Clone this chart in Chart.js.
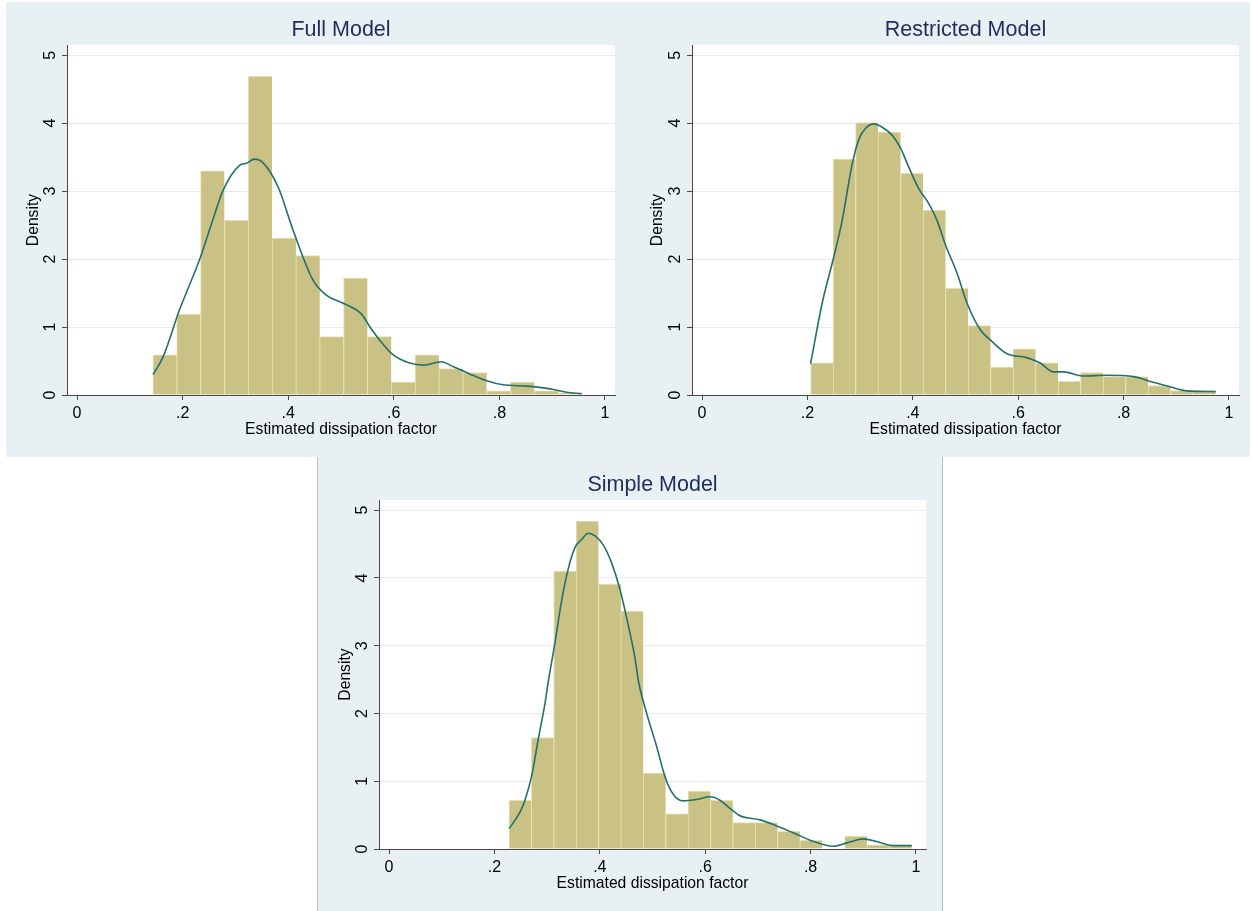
<!DOCTYPE html>
<html>
<head>
<meta charset="utf-8">
<script src="https://cdn.jsdelivr.net/npm/chart.js@4"></script>
<style>
  html, body { margin: 0; padding: 0; background: #ffffff; }
  body { width: 1252px; height: 911px; position: relative; overflow: hidden; font-family: 'Liberation Sans', Arial, sans-serif; }
  .bg { position: absolute; background: #e9f0f3; box-sizing: border-box; }
  canvas { position: absolute; }
</style>
</head>
<body>
<div class="bg" style="left:6px;top:2px;width:1244px;height:455px;"></div>
<div class="bg" style="left:317px;top:457px;width:626px;height:454px;border-left:1px solid #b7bfc3;border-right:1px solid #b7bfc3;"></div>
<canvas id="c1" width="614" height="455" style="left:6px;top:2px;width:614px;height:455px;"></canvas>
<canvas id="c2" width="620" height="455" style="left:630px;top:2px;width:620px;height:455px;"></canvas>
<canvas id="c3" width="624" height="454" style="left:318px;top:457px;width:624px;height:454px;"></canvas>
<script>
// ---------------- DATA ----------------
const xTickValues = [0, 0.2, 0.4, 0.6, 0.8, 1];
const yTickValues = [0, 1, 2, 3, 4, 5];
const xAxisTitle = 'Estimated dissipation factor';
const yAxisTitle = 'Density';

// Full Model
const fullTitle = 'Full Model';
const fullBinStart = 0.1437;
const fullBinWidth = 0.04515;
const fullHeights = [0.59, 1.19, 3.30, 2.57, 4.69, 2.31, 2.05, 0.86, 1.72, 0.86, 0.19, 0.59, 0.39, 0.33, 0.06, 0.19, 0.06, 0.03];
const fullKdeX = [0.144, 0.163, 0.194, 0.232, 0.257, 0.276, 0.308, 0.321, 0.336, 0.352, 0.381, 0.409, 0.447, 0.472, 0.504, 0.539, 0.555, 0.573, 0.596, 0.630, 0.656, 0.690, 0.712, 0.744, 0.776, 0.807, 0.852, 0.896, 0.927, 0.956];
const fullKdeY = [0.30, 0.56, 1.25, 1.99, 2.57, 3.00, 3.38, 3.41, 3.47, 3.42, 3.06, 2.43, 1.69, 1.47, 1.35, 1.19, 1.00, 0.81, 0.61, 0.47, 0.44, 0.49, 0.42, 0.31, 0.21, 0.15, 0.13, 0.09, 0.04, 0.02];

// Restricted Model
const restrictedTitle = 'Restricted Model';
const restrictedBinStart = 0.206;
const restrictedBinWidth = 0.0427;
const restrictedHeights = [0.475, 3.47, 4.01, 3.87, 3.26, 2.72, 1.57, 1.02, 0.41, 0.68, 0.475, 0.20, 0.33, 0.27, 0.27, 0.14, 0.065, 0.065];
const restrictedKdeX = [0.206, 0.228, 0.250, 0.266, 0.284, 0.297, 0.310, 0.326, 0.342, 0.361, 0.377, 0.392, 0.411, 0.430, 0.446, 0.461, 0.484, 0.503, 0.528, 0.547, 0.578, 0.616, 0.642, 0.667, 0.686, 0.724, 0.768, 0.819, 0.851, 0.888, 0.920, 0.975];
const restrictedKdeY = [0.46, 1.35, 2.03, 2.57, 3.36, 3.75, 3.92, 3.99, 3.94, 3.82, 3.63, 3.36, 3.04, 2.82, 2.57, 2.23, 1.79, 1.35, 0.96, 0.81, 0.61, 0.55, 0.47, 0.34, 0.34, 0.28, 0.29, 0.27, 0.20, 0.12, 0.06, 0.05];

// Simple Model
const simpleTitle = 'Simple Model';
const simpleBinStart = 0.2277;
const simpleBinWidth = 0.04246;
const simpleHeights = [0.72, 1.645, 4.10, 4.84, 3.91, 3.51, 1.12, 0.52, 0.854, 0.72, 0.39, 0.39, 0.26, 0.128, 0, 0.19, 0.06, 0.06];
const simpleKdeX = [0.228, 0.249, 0.258, 0.271, 0.283, 0.296, 0.302, 0.315, 0.327, 0.340, 0.353, 0.366, 0.378, 0.391, 0.407, 0.422, 0.438, 0.454, 0.467, 0.473, 0.489, 0.508, 0.524, 0.540, 0.558, 0.584, 0.609, 0.628, 0.647, 0.666, 0.704, 0.736, 0.767, 0.799, 0.843, 0.869, 0.900, 0.925, 0.957, 0.992];
const simpleKdeY = [0.30, 0.55, 0.72, 1.09, 1.61, 2.15, 2.46, 3.05, 3.64, 4.13, 4.45, 4.57, 4.66, 4.62, 4.48, 4.23, 3.84, 3.30, 2.81, 2.49, 2.00, 1.51, 1.06, 0.80, 0.71, 0.73, 0.77, 0.72, 0.60, 0.49, 0.43, 0.34, 0.24, 0.13, 0.04, 0.09, 0.15, 0.11, 0.05, 0.05];

// ---------------- STYLE ----------------
const FONT = "'Liberation Sans', Arial, sans-serif";
const BAR_FILL = '#cac284';
const BAR_EDGE = '#e6e1b4';
const KDE_COLOR = '#24706c';
const GRID_COLOR = '#e4ecef';
const AXIS_COLOR = '#4a4a4a';
const TITLE_COLOR = '#1e2d5c';

const plotBg = {
  id: 'plotBg',
  beforeDraw(chart) {
    const a = chart.chartArea, ctx = chart.ctx;
    ctx.save();
    ctx.fillStyle = '#ffffff';
    ctx.fillRect(a.left, a.top, a.right - a.left, a.bottom - a.top);
    ctx.restore();
  }
};

function fmtX(v) {
  const r = Math.round(v * 10) / 10;
  if (r === 0) return '0';
  if (r === 1) return '1';
  return String(r).replace(/^0\./, '.');
}

function makePanel(id, title, binStart, binWidth, heights, kdeX, kdeY, geo) {
  const bars = heights.map((h, i) => ({ x: binStart + (i + 0.5) * binWidth, y: h }));
  const kde = kdeX.map((x, i) => ({ x: x, y: kdeY[i] }));
  new Chart(document.getElementById(id), {
    type: 'bar',
    data: {
      datasets: [
        {
          type: 'line', data: kde, order: 0,
          borderColor: KDE_COLOR, borderWidth: 1.6, pointRadius: 0,
          cubicInterpolationMode: 'monotone', fill: false
        },
        {
          type: 'bar', data: bars, order: 1,
          backgroundColor: BAR_FILL, borderColor: BAR_EDGE,
          borderWidth: { top: 1, left: 1, right: 0, bottom: 0 },
          borderSkipped: 'start',
          barPercentage: 1, categoryPercentage: 1
        }
      ]
    },
    options: {
      responsive: false,
      animation: false,
      events: [],
      layout: { padding: { left: 0, right: geo.padRight, top: 0, bottom: geo.padBottom } },
      plugins: {
        legend: { display: false },
        tooltip: { enabled: false },
        title: {
          display: true, text: title, fullSize: false,
          color: TITLE_COLOR,
          font: { family: FONT, size: 21.5, weight: 'normal' },
          padding: { top: 15.6, bottom: 1.6 }
        }
      },
      scales: {
        x: {
          type: 'linear', min: -0.019, max: 1.019, offset: false,
          afterBuildTicks: s => { s.ticks = xTickValues.map(v => ({ value: v })); },
          afterFit: s => { s.height = 44; },
          grid: { display: true, drawOnChartArea: false, drawTicks: true, tickLength: 5, tickColor: AXIS_COLOR, offset: false },
          border: { display: true, color: AXIS_COLOR, width: 1 },
          ticks: {
            color: '#000', padding: 4, maxRotation: 0, autoSkip: false,
            font: { family: FONT, size: 16 },
            callback: v => fmtX(v)
          },
          title: {
            display: true, text: xAxisTitle, color: '#000',
            font: { family: FONT, size: 15.7 },
            padding: { top: 0, bottom: 0 }
          }
        },
        y: {
          type: 'linear', min: 0, max: 5.15,
          afterBuildTicks: s => { s.ticks = yTickValues.map(v => ({ value: v })); },
          afterFit: s => { s.width = geo.yWidth; },
          grid: { display: true, drawOnChartArea: true, color: GRID_COLOR, lineWidth: 1, drawTicks: true, tickLength: 5, tickColor: AXIS_COLOR },
          border: { display: true, color: AXIS_COLOR, width: 1 },
          ticks: {
            color: '#000', padding: 7, minRotation: 90, maxRotation: 90, crossAlign: 'center',
            font: { family: FONT, size: 16 },
            callback: v => String(v)
          },
          title: {
            display: true, text: yAxisTitle, color: '#000',
            font: { family: FONT, size: 15.7 },
            padding: { top: 18, bottom: 0 }
          }
        }
      }
    },
    plugins: [plotBg]
  });
}

makePanel('c1', fullTitle, fullBinStart, fullBinWidth, fullHeights, fullKdeX, fullKdeY,
  { yWidth: 61, padRight: 5, padBottom: 18 });
makePanel('c2', restrictedTitle, restrictedBinStart, restrictedBinWidth, restrictedHeights, restrictedKdeX, restrictedKdeY,
  { yWidth: 62, padRight: 11, padBottom: 18 });
makePanel('c3', simpleTitle, simpleBinStart, simpleBinWidth, simpleHeights, simpleKdeX, simpleKdeY,
  { yWidth: 61, padRight: 16, padBottom: 18 });
</script>
</body>
</html>
